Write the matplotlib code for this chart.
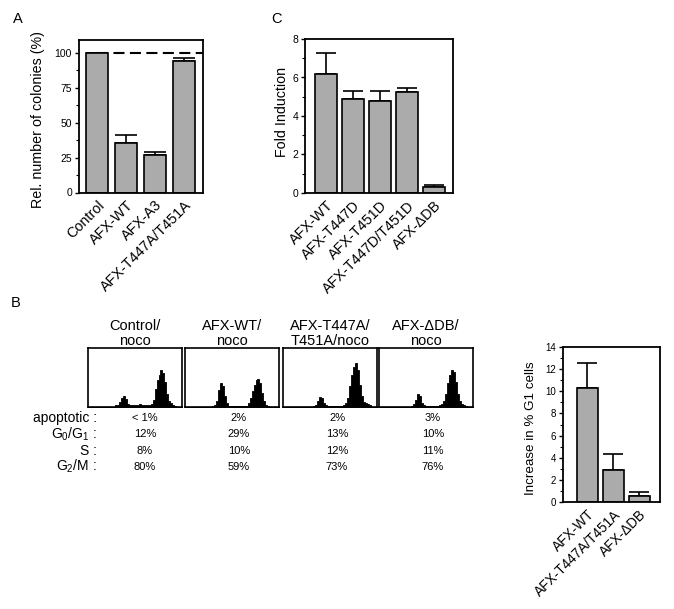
import matplotlib
matplotlib.use('Agg')
import matplotlib.pyplot as plt
from matplotlib.ticker import MultipleLocator
import numpy as np

plt.rcParams['font.family'] = ['Liberation Sans', 'DejaVu Sans']
plt.rcParams['mathtext.fontset'] = 'custom'
plt.rcParams['mathtext.rm'] = 'Liberation Sans'
plt.rcParams['mathtext.it'] = 'Liberation Sans'

# panel A: colony formation
a_labels = ['Control', 'AFX-WT', 'AFX-A3', 'AFX-T447A/T451A']
a_values = [100, 35.7, 27.1, 94.3]
a_err = [0, 5.2, 1.7, 1.6]

# panel C: fold induction
c_labels = ['AFX-WT', 'AFX-T447D', 'AFX-T451D', 'AFX-T447D/T451D', 'AFX-ΔDB']
c_values = [6.2, 4.87, 4.8, 5.23, 0.33]
c_err = [1.05, 0.45, 0.5, 0.2, 0.07]

# panel B: increase in G1
b_labels = ['AFX-WT', 'AFX-T447A/T451A', 'AFX-ΔDB']
b_values = [10.3, 2.9, 0.54]
b_err = [2.3, 1.4, 0.33]

# panel B: FACS profiles (48 channels, relative height)
hist_titles = ['Control/\nnoco', 'AFX-WT/\nnoco', 'AFX-T447A/\nT451A/noco', 'AFX-ΔDB/\nnoco']
hist_control = [0]*14 + [0.03, 0.04, 0.08, 0.15, 0.18, 0.14, 0.05, 0.03, 0.03, 0.03, 0.03, 0.03,
                         0.05, 0.03, 0.03, 0.03, 0.03, 0.03, 0.05, 0.12, 0.30, 0.45, 0.55, 0.63,
                         0.58, 0.42, 0.22, 0.10, 0.06, 0.04, 0.01, 0, 0, 0]
hist_wt = [0]*14 + [0.01, 0.03, 0.10, 0.28, 0.40, 0.36, 0.18, 0.07, 0.02, 0.01, 0.01, 0.01,
                    0.02, 0.01, 0.01, 0.01, 0.01, 0.02, 0.06, 0.15, 0.27, 0.38, 0.46, 0.48,
                    0.40, 0.24, 0.10, 0.04, 0.02, 0, 0, 0, 0, 0]
hist_aa = [0]*15 + [0.02, 0.04, 0.10, 0.17, 0.15, 0.07, 0.03, 0.02, 0.02, 0.02, 0.02, 0.02,
                    0.02, 0.02, 0.02, 0.03, 0.06, 0.15, 0.35, 0.55, 0.68, 0.74, 0.62, 0.38,
                    0.18, 0.09, 0.06, 0.05, 0.03, 0, 0, 0]
hist_ddb = [0]*16 + [0.02, 0.05, 0.12, 0.22, 0.18, 0.07, 0.03, 0.02, 0.02, 0.02, 0.02, 0.02,
                     0.02, 0.02, 0.03, 0.05, 0.10, 0.22, 0.40, 0.55, 0.63, 0.60, 0.42, 0.22,
                     0.10, 0.05, 0.03, 0.02, 0, 0, 0]
hists = [hist_control, hist_wt, hist_aa, hist_ddb]

row_labels = ['apoptotic :', 'G$_0$/G$_1$ :', 'S :', 'G$_2$/M :']
row_values = [['< 1%', '2%', '2%', '3%'],
              ['12%', '29%', '13%', '10%'],
              ['8%', '10%', '12%', '11%'],
              ['80%', '59%', '73%', '76%']]

W, H = 674, 609
bar_color = '#ababab'


def px_axes(fig, x0, y0, x1, y1):
    return fig.add_axes([x0 / W, 1 - y1 / H, (x1 - x0) / W, (y1 - y0) / H])


def bar_panel(ax, labels, values, err, width, lab_size, tick_size, cap):
    x = np.arange(len(labels))
    ax.bar(x, values, width, color=bar_color, edgecolor='black', linewidth=1.2, zorder=2)
    ax.errorbar(x, values, yerr=[np.zeros(len(err)), err], fmt='none', ecolor='black',
                elinewidth=1.2, capsize=cap, capthick=1.2, zorder=1)
    ax.set_xticks(x)
    ax.set_xticklabels(labels, rotation=45, ha='right', rotation_mode='anchor', fontsize=lab_size)
    ax.tick_params(axis='x', length=0, pad=4)
    ax.tick_params(axis='y', which='major', direction='out', length=3, width=1, labelsize=tick_size, pad=2)
    ax.tick_params(axis='y', which='minor', direction='out', length=2, width=0.8)
    for s in ax.spines.values():
        s.set_linewidth(1.3)


fig = plt.figure(figsize=(W / 100, H / 100), dpi=100)

# A
axA = px_axes(fig, 79, 40, 203, 192.5)
bar_panel(axA, a_labels, a_values, a_err, 0.76, 10.4, 7.5, 8)
axA.hlines(100, 0, 3.66, colors='black', linewidth=1.5, linestyles=(0, (5.3, 2.6)), zorder=0)
axA.set_xlim(-0.62, 3.66)
axA.set_ylim(0, 109)
axA.yaxis.set_major_locator(MultipleLocator(25))
axA.yaxis.set_minor_locator(MultipleLocator(12.5))
fig.text(38.5 / W, 1 - 120 / H, 'Rel. number of colonies (%)', rotation=90,
         ha='center', va='center', fontsize=10.3)
fig.text(18 / W, 1 - 19 / H, 'A', ha='center', va='center', fontsize=10.5)

# C
axC = px_axes(fig, 305, 39, 453, 193)
bar_panel(axC, c_labels, c_values, c_err, 0.8, 10.4, 7.5, 7)
axC.set_xlim(-0.78, 4.7)
axC.set_ylim(0, 8)
axC.yaxis.set_major_locator(MultipleLocator(2))
axC.yaxis.set_minor_locator(MultipleLocator(1))
fig.text(282.5 / W, 1 - 112 / H, 'Fold Induction', rotation=90,
         ha='center', va='center', fontsize=10.3)
fig.text(277 / W, 1 - 19 / H, 'C', ha='center', va='center', fontsize=10.5)

# B bar chart
axB = px_axes(fig, 563, 347, 660, 502)
bar_panel(axB, b_labels, b_values, b_err, 0.8, 9.8, 7, 7)
axB.set_xlim(-0.94, 2.79)
axB.set_ylim(0, 14)
axB.yaxis.set_major_locator(MultipleLocator(2))
axB.yaxis.set_minor_locator(MultipleLocator(1))
fig.text(531 / W, 1 - 428 / H, 'Increase in % G1 cells', rotation=90,
         ha='center', va='center', fontsize=9.6)
fig.text(16 / W, 1 - 303 / H, 'B', ha='center', va='center', fontsize=10.5)

# B FACS profiles
box_left = [88, 185, 283, 379]
for i, (x0, h, title) in enumerate(zip(box_left, hists, hist_titles)):
    ax = px_axes(fig, x0, 348, x0 + 94, 407)
    edges = np.linspace(0, 1, len(h) + 1)
    ax.fill_between(edges, np.r_[h, 0], step='post', color='black', linewidth=0.6)
    ax.set_xlim(0, 1)
    ax.set_ylim(0, 1)
    ax.set_xticks([])
    ax.set_yticks([])
    for s in ax.spines.values():
        s.set_linewidth(1.2)
    fig.text((x0 + 47) / W, 1 - 333.5 / H, title, ha='center', va='center',
             fontsize=10.5, linespacing=1.15)

row_y = [417.7, 434.3, 451, 466.7]
val_x = [145, 239, 337, 433]
for r, (lab, y) in enumerate(zip(row_labels, row_y)):
    fig.text(97 / W, 1 - y / H, lab, ha='right', va='center', fontsize=10)
    for c, xv in enumerate(val_x):
        fig.text(xv / W, 1 - y / H, row_values[r][c], ha='center', va='center', fontsize=8)

fig.savefig('out.png', dpi=100)
